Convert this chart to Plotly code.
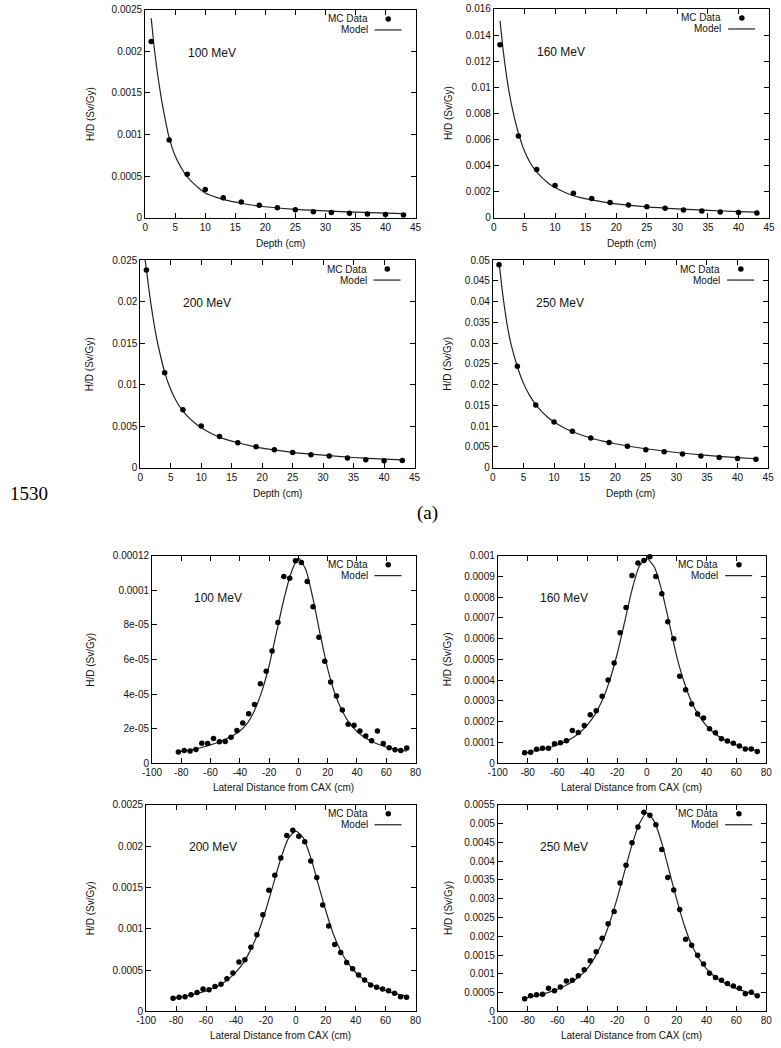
import plotly.graph_objects as go

# ---------------- data ----------------
depth_x = [1, 4, 7, 10, 13, 16, 19, 22, 25, 28, 31, 34, 37, 40, 43]
depth_mc_100 = [2.12e-3, 9.33e-4, 5.2e-4, 3.37e-4, 2.38e-4, 1.87e-4, 1.47e-4, 1.19e-4,
                9.5e-5, 7.1e-5, 6.0e-5, 5.2e-5, 4.4e-5, 3.6e-5, 3.2e-5]
depth_mc_160 = [1.326e-2, 6.26e-3, 3.69e-3, 2.45e-3, 1.87e-3, 1.46e-3, 1.16e-3, 9.6e-4,
                8.3e-4, 7.1e-4, 5.8e-4, 5.0e-4, 4.3e-4, 3.8e-4, 3.5e-4]
depth_mc_200 = [2.38e-2, 1.143e-2, 6.97e-3, 5.02e-3, 3.74e-3, 2.99e-3, 2.51e-3, 2.15e-3,
                1.83e-3, 1.55e-3, 1.39e-3, 1.15e-3, 9.6e-4, 8.4e-4, 8.5e-4]
depth_mc_250 = [4.89e-2, 2.44e-2, 1.51e-2, 1.10e-2, 8.76e-3, 7.17e-3, 6.05e-3, 5.18e-3,
                4.3e-3, 3.82e-3, 3.26e-3, 2.79e-3, 2.47e-3, 2.23e-3, 2.0e-3]

depth_model_x = [1, 1.5, 2, 2.5, 3, 4, 5, 6, 7, 8, 9, 10, 12, 14, 16, 18, 20, 25, 30, 35, 40, 43]
depth_model_100 = [2.40e-3, 2.05e-3, 1.76e-3, 1.52e-3, 1.31e-3, 9.6e-4, 7.4e-4, 6.0e-4, 4.9e-4,
                   4.15e-4, 3.5e-4, 2.95e-4, 2.4e-4, 2.0e-4, 1.72e-4, 1.48e-4, 1.3e-4, 9.8e-5,
                   8.0e-5, 6.5e-5, 5.3e-5, 4.8e-5]
depth_model_160 = [1.51e-2, 1.29e-2, 1.11e-2, 9.6e-3, 8.4e-3, 6.5e-3, 5.1e-3, 4.15e-3, 3.5e-3,
                   3.0e-3, 2.6e-3, 2.3e-3, 1.85e-3, 1.55e-3, 1.35e-3, 1.18e-3, 1.05e-3, 8.2e-4,
                   6.7e-4, 5.5e-4, 4.6e-4, 4.2e-4]
depth_model_x_200 = [0.7, 1, 1.5, 2, 2.5, 3, 4, 5, 6, 7, 8, 9, 10, 12, 14, 16, 18, 20, 25, 30, 35, 40, 43]
depth_model_200 = [2.55e-2, 2.39e-2, 2.10e-2, 1.85e-2, 1.63e-2, 1.45e-2, 1.15e-2, 9.4e-3, 7.9e-3,
                   6.8e-3, 6.0e-3, 5.35e-3, 4.8e-3, 4.0e-3, 3.4e-3, 3.0e-3, 2.65e-3, 2.35e-3,
                   1.85e-3, 1.5e-3, 1.22e-3, 1.02e-3, 9.3e-4]
depth_model_250 = [4.95e-2, 4.3e-2, 3.75e-2, 3.3e-2, 2.95e-2, 2.43e-2, 2.03e-2, 1.74e-2, 1.52e-2,
                   1.35e-2, 1.21e-2, 1.10e-2, 9.3e-3, 8.1e-3, 7.15e-3, 6.4e-3, 5.75e-3, 4.55e-3,
                   3.65e-3, 2.95e-3, 2.4e-3, 2.15e-3]

lat_x = [-82, -78, -74, -70, -66, -62, -58, -54, -50, -46, -42, -38, -34, -30, -26, -22, -18, -14,
         -10, -6, -2, 2, 6, 10, 14, 18, 22, 26, 30, 34, 38, 42, 46, 50, 54, 58, 62, 66, 70, 74]
lat_mc_100 = [6.5e-6, 7.4e-6, 7.0e-6, 8.0e-6, 11.6e-6, 11.4e-6, 14.3e-6, 12.4e-6, 12.6e-6, 15.0e-6,
              18.9e-6, 23.2e-6, 28.6e-6, 33.9e-6, 45.9e-6, 53.1e-6, 64.8e-6, 81.3e-6, 108e-6, 106.9e-6,
              117e-6, 116e-6, 105e-6, 90.5e-6, 72.8e-6, 58.9e-6, 47e-6, 38.9e-6, 30.7e-6, 22.5e-6,
              21.9e-6, 18.7e-6, 15.8e-6, 13e-6, 18.7e-6, 11.4e-6, 9.0e-6, 7.8e-6, 7.4e-6, 8.8e-6]
lat_mc_160 = [0.51e-4, 0.53e-4, 0.67e-4, 0.72e-4, 0.72e-4, 0.94e-4, 0.99e-4, 1.08e-4, 1.58e-4, 1.48e-4,
              1.82e-4, 2.34e-4, 2.53e-4, 3.23e-4, 4.01e-4, 4.83e-4, 6.29e-4, 7.50e-4, 9.04e-4, 9.64e-4,
              9.77e-4, 9.95e-4, 9.0e-4, 8.16e-4, 6.81e-4, 6.0e-4, 4.19e-4, 3.54e-4, 2.85e-4, 2.37e-4,
              2.18e-4, 1.66e-4, 1.47e-4, 1.18e-4, 1.07e-4, 0.96e-4, 0.83e-4, 0.68e-4, 0.68e-4, 0.56e-4]
lat_mc_200 = [1.6e-4, 1.72e-4, 1.76e-4, 2.0e-4, 2.28e-4, 2.72e-4, 2.6e-4, 3.0e-4, 3.28e-4, 3.96e-4,
              4.64e-4, 5.96e-4, 6.24e-4, 7.76e-4, 9.28e-4, 11.68e-4, 14.64e-4, 16.48e-4, 18.56e-4, 21.28e-4,
              21.92e-4, 21.2e-4, 20.52e-4, 18.2e-4, 16.2e-4, 12.88e-4, 10.32e-4, 8.08e-4, 7.12e-4, 5.92e-4,
              5.16e-4, 4.4e-4, 3.8e-4, 3.2e-4, 2.92e-4, 2.72e-4, 2.5e-4, 2.2e-4, 1.76e-4, 1.72e-4]
lat_mc_250 = [3.35e-4, 4.14e-4, 4.4e-4, 4.58e-4, 6.16e-4, 5.46e-4, 6.51e-4, 8.1e-4, 8.27e-4, 9.5e-4,
              11.09e-4, 13.47e-4, 15.85e-4, 19.45e-4, 23.33e-4, 26.58e-4, 34.15e-4, 38.9e-4, 44.9e-4, 49.1e-4,
              53.0e-4, 52.2e-4, 49.7e-4, 43.1e-4, 35.65e-4, 32.3e-4, 27.1e-4, 19.2e-4, 17.6e-4, 14.96e-4,
              12.59e-4, 10.12e-4, 8.98e-4, 8.27e-4, 7.39e-4, 6.78e-4, 6.16e-4, 4.67e-4, 5.1e-4, 4.14e-4]

lat_model_x = [-82, -75, -70, -65, -60, -55, -50, -45, -40, -35, -30, -25, -20, -15, -10, -5, 0,
               5, 10, 15, 20, 25, 30, 35, 40, 45, 50, 55, 60, 65, 70, 74]
lat_model_100 = [6.5e-6, 7.5e-6, 8.3e-6, 9.4e-6, 10.6e-6, 12.0e-6, 13.8e-6, 15.9e-6, 18.6e-6, 23.0e-6,
                 30.5e-6, 41.5e-6, 56.5e-6, 75.5e-6, 94.5e-6, 110e-6, 118.5e-6, 112e-6, 95e-6, 74e-6,
                 54.5e-6, 40e-6, 30e-6, 23e-6, 18.3e-6, 15e-6, 12.6e-6, 10.8e-6, 9.4e-6, 8.3e-6,
                 7.5e-6, 7.0e-6]
lat_model_160 = [0.48e-4, 0.6e-4, 0.67e-4, 0.76e-4, 0.88e-4, 1.03e-4, 1.22e-4, 1.48e-4, 1.84e-4, 2.33e-4,
                 3.02e-4, 3.98e-4, 5.25e-4, 6.78e-4, 8.35e-4, 9.5e-4, 9.85e-4, 9.45e-4, 8.3e-4, 6.75e-4,
                 5.15e-4, 3.9e-4, 2.95e-4, 2.28e-4, 1.8e-4, 1.46e-4, 1.21e-4, 1.02e-4, 0.88e-4, 0.76e-4,
                 0.67e-4, 0.6e-4]
lat_model_200 = [1.55e-4, 1.8e-4, 1.98e-4, 2.2e-4, 2.48e-4, 2.82e-4, 3.28e-4, 3.9e-4, 4.75e-4, 5.9e-4,
                 7.5e-4, 9.6e-4, 12.3e-4, 15.4e-4, 18.5e-4, 20.9e-4, 21.8e-4, 21.0e-4, 18.6e-4, 15.4e-4,
                 12.2e-4, 9.4e-4, 7.3e-4, 5.8e-4, 4.7e-4, 3.9e-4, 3.3e-4, 2.85e-4, 2.5e-4, 2.22e-4,
                 2.0e-4, 1.85e-4]
lat_model_250 = [3.5e-4, 4.1e-4, 4.6e-4, 5.2e-4, 5.9e-4, 6.8e-4, 7.9e-4, 9.4e-4, 11.4e-4, 14.3e-4,
                 18.3e-4, 23.6e-4, 30.0e-4, 37.2e-4, 44.3e-4, 50.0e-4, 52.8e-4, 50.5e-4, 44.8e-4, 37.3e-4,
                 29.8e-4, 23.0e-4, 17.7e-4, 14.0e-4, 11.3e-4, 9.4e-4, 8.0e-4, 6.9e-4, 6.1e-4, 5.4e-4,
                 4.8e-4, 4.4e-4]

# tick labels
depth_xticks = [0, 5, 10, 15, 20, 25, 30, 35, 40, 45]
depth_xticktext = ["0", "5", "10", "15", "20", "25", "30", "35", "40", "45"]
lat_xticks = [-100, -80, -60, -40, -20, 0, 20, 40, 60, 80]
lat_xticktext = ["-100", "-80", "-60", "-40", "-20", "0", "20", "40", "60", "80"]

yt_depth_100 = [0, 0.0005, 0.001, 0.0015, 0.002, 0.0025]
ytt_depth_100 = ["0", "0.0005", "0.001", "0.0015", "0.002", "0.0025"]
yt_depth_160 = [0, 0.002, 0.004, 0.006, 0.008, 0.01, 0.012, 0.014, 0.016]
ytt_depth_160 = ["0", "0.002", "0.004", "0.006", "0.008", "0.01", "0.012", "0.014", "0.016"]
yt_depth_200 = [0, 0.005, 0.01, 0.015, 0.02, 0.025]
ytt_depth_200 = ["0", "0.005", "0.01", "0.015", "0.02", "0.025"]
yt_depth_250 = [0, 0.005, 0.01, 0.015, 0.02, 0.025, 0.03, 0.035, 0.04, 0.045, 0.05]
ytt_depth_250 = ["0", "0.005", "0.01", "0.015", "0.02", "0.025", "0.03", "0.035", "0.04", "0.045", "0.05"]
yt_lat_100 = [0, 2e-5, 4e-5, 6e-5, 8e-5, 1e-4, 1.2e-4]
ytt_lat_100 = ["0", "2e-05", "4e-05", "6e-05", "8e-05", "0.0001", "0.00012"]
yt_lat_160 = [0, 1e-4, 2e-4, 3e-4, 4e-4, 5e-4, 6e-4, 7e-4, 8e-4, 9e-4, 1e-3]
ytt_lat_160 = ["0", "0.0001", "0.0002", "0.0003", "0.0004", "0.0005", "0.0006", "0.0007",
               "0.0008", "0.0009", "0.001"]
yt_lat_200 = [0, 5e-4, 1e-3, 1.5e-3, 2e-3, 2.5e-3]
ytt_lat_200 = ["0", "0.0005", "0.001", "0.0015", "0.002", "0.0025"]
yt_lat_250 = [0, 5e-4, 1e-3, 1.5e-3, 2e-3, 2.5e-3, 3e-3, 3.5e-3, 4e-3, 4.5e-3, 5e-3, 5.5e-3]
ytt_lat_250 = ["0", "0.0005", "0.001", "0.0015", "0.002", "0.0025", "0.003", "0.0035", "0.004",
               "0.0045", "0.005", "0.0055"]

energies = ["100 MeV", "160 MeV", "200 MeV", "250 MeV", "100 MeV", "160 MeV", "200 MeV", "250 MeV"]

# ---------------- layout (pixel geometry) ----------------
W, H = 781, 1048
FONT = "Liberation Sans, Arial, Helvetica, sans-serif"
SERIF = "Liberation Serif, Times New Roman, serif"

panels = [
    dict(mx=depth_model_x, my=depth_model_100, dx=depth_x, dy=depth_mc_100, xr=[0, 45], yr=[0, 0.0025],
         xt=depth_xticks, xtt=depth_xticktext, yt=yt_depth_100, ytt=ytt_depth_100,
         px=(138, 414), py=(4, 214), xtitle="Depth (cm)", xty=240, col=0),
    dict(mx=depth_model_x, my=depth_model_160, dx=depth_x, dy=depth_mc_160, xr=[0, 45], yr=[0, 0.016],
         xt=depth_xticks, xtt=depth_xticktext, yt=yt_depth_160, ytt=ytt_depth_160,
         px=(494, 775), py=(3, 214), xtitle="Depth (cm)", xty=240, col=1),
    dict(mx=depth_model_x_200, my=depth_model_200, dx=depth_x, dy=depth_mc_200, xr=[0, 45], yr=[0, 0.025],
         xt=depth_xticks, xtt=depth_xticktext, yt=yt_depth_200, ytt=ytt_depth_200,
         px=(133, 413), py=(257, 467), xtitle="Depth (cm)", xty=493, col=0),
    dict(mx=depth_model_x, my=depth_model_250, dx=depth_x, dy=depth_mc_250, xr=[0, 45], yr=[0, 0.05],
         xt=depth_xticks, xtt=depth_xticktext, yt=yt_depth_250, ytt=ytt_depth_250,
         px=(493, 774), py=(257, 467), xtitle="Depth (cm)", xty=493, col=1),
    dict(mx=lat_model_x, my=lat_model_100, dx=lat_x, dy=lat_mc_100, xr=[-100, 80], yr=[0, 0.00012],
         xt=lat_xticks, xtt=lat_xticktext, yt=yt_lat_100, ytt=ytt_lat_100,
         px=(145, 414), py=(556, 766), xtitle="Lateral Distance from CAX (cm)", xty=791, col=0),
    dict(mx=lat_model_x, my=lat_model_160, dx=lat_x, dy=lat_mc_160, xr=[-100, 80], yr=[0, 0.001],
         xt=lat_xticks, xtt=lat_xticktext, yt=yt_lat_160, ytt=ytt_lat_160,
         px=(498, 772), py=(556, 766), xtitle="Lateral Distance from CAX (cm)", xty=791, col=1),
    dict(mx=lat_model_x, my=lat_model_200, dx=lat_x, dy=lat_mc_200, xr=[-100, 80], yr=[0, 0.0025],
         xt=lat_xticks, xtt=lat_xticktext, yt=yt_lat_200, ytt=ytt_lat_200,
         px=(139, 414), py=(808, 1017), xtitle="Lateral Distance from CAX (cm)", xty=1041, col=0),
    dict(mx=lat_model_x, my=lat_model_250, dx=lat_x, dy=lat_mc_250, xr=[-100, 80], yr=[0, 0.0055],
         xt=lat_xticks, xtt=lat_xticktext, yt=yt_lat_250, ytt=ytt_lat_250,
         px=(498, 772), py=(808, 1017), xtitle="Lateral Distance from CAX (cm)", xty=1041, col=1),
]

fig = go.Figure()
annotations = []
shapes = []
tickfont = dict(family=FONT, size=10, color="#111")

for i, p in enumerate(panels, start=1):
    sfx = "" if i == 1 else str(i)
    xa, ya = "x" + sfx, "y" + sfx
    fig.add_trace(go.Scatter(x=p["mx"], y=p["my"], mode="lines", xaxis=xa, yaxis=ya,
                             line=dict(color="#222", width=1.2, shape="spline", smoothing=0.6),
                             hoverinfo="skip"))
    fig.add_trace(go.Scatter(x=p["dx"], y=p["dy"], mode="markers", xaxis=xa, yaxis=ya,
                             marker=dict(color="black", size=5.5), cliponaxis=False))
    common = dict(showline=True, linecolor="black", linewidth=1, mirror="allticks",
                  ticks="inside", ticklen=5, tickwidth=1, tickcolor="black",
                  showgrid=False, zeroline=False, tickfont=tickfont, fixedrange=True,
                  ticklabeloverflow="allow")
    fig.layout["xaxis" + sfx] = dict(domain=[p["px"][0] / W, p["px"][1] / W], anchor=ya,
                                     range=p["xr"], tickmode="array", tickvals=p["xt"],
                                     ticktext=p["xtt"], **common)
    fig.layout["yaxis" + sfx] = dict(domain=[1 - p["py"][1] / H, 1 - p["py"][0] / H], anchor=xa,
                                     range=p["yr"], tickmode="array", tickvals=p["yt"],
                                     ticktext=p["ytt"], **common)
    xd, yd = xa + " domain", ya + " domain"
    # energy label
    annotations.append(dict(text=energies[i - 1], xref=xd, yref=yd, x=0.15, y=0.795,
                            xanchor="left", yanchor="middle", showarrow=False,
                            font=dict(family=FONT, size=12, color="#111")))
    # legend (gnuplot style: text then sample)
    annotations.append(dict(text="MC Data", xref=xd, yref=yd, x=1, y=1, xshift=-46, yshift=-9,
                            xanchor="right", yanchor="middle", showarrow=False,
                            font=dict(family=FONT, size=10, color="#111")))
    annotations.append(dict(text="Model", xref=xd, yref=yd, x=1, y=1, xshift=-46, yshift=-20,
                            xanchor="right", yanchor="middle", showarrow=False,
                            font=dict(family=FONT, size=10, color="#111")))
    shapes.append(dict(type="circle", xref=xd, yref=yd, xsizemode="pixel", ysizemode="pixel",
                       xanchor=1, yanchor=1, x0=-30, x1=-24.5, y0=-11.8, y1=-6.3,
                       fillcolor="black", line=dict(width=0)))
    shapes.append(dict(type="line", xref=xd, yref=yd, xsizemode="pixel", ysizemode="pixel",
                       xanchor=1, yanchor=1, x0=-41, x1=-14, y0=-20, y1=-20,
                       line=dict(color="#222", width=1.2)))
    # axis titles
    annotations.append(dict(text=p["xtitle"], xref=xd, yref="paper", x=0.5, y=1 - p["xty"] / H,
                            xanchor="center", yanchor="middle", showarrow=False,
                            font=dict(family=FONT, size=10, color="#111")))
    ycx = 82 if p["col"] == 0 else 447
    annotations.append(dict(text="H/D (Sv/Gy)", xref="paper", yref="paper", x=ycx / W,
                            y=1 - (p["py"][0] + p["py"][1]) / 2 / H, textangle=-90,
                            xanchor="center", yanchor="middle", showarrow=False,
                            font=dict(family=FONT, size=10, color="#111")))

# page text
annotations.append(dict(text="1530", xref="paper", yref="paper", x=0, y=1 - 493 / H, xshift=-2,
                        xanchor="left", yanchor="middle", showarrow=False,
                        font=dict(family=SERIF, size=19, color="#000")))
annotations.append(dict(text="(a)", xref="paper", yref="paper", x=426 / W, y=1 - 513 / H,
                        xanchor="center", yanchor="middle", showarrow=False,
                        font=dict(family=SERIF, size=19, color="#000")))

fig.update_layout(width=W, height=H, margin=dict(l=0, r=0, t=0, b=0), showlegend=False,
                  paper_bgcolor="white", plot_bgcolor="white",
                  annotations=annotations, shapes=shapes)

# remove the browser's default 8px body margin so the figure sits at the page origin
fig.write_html("out.html", config={"displayModeBar": False},
               post_script="document.body.style.margin='0px'; document.body.style.overflow='hidden';")
